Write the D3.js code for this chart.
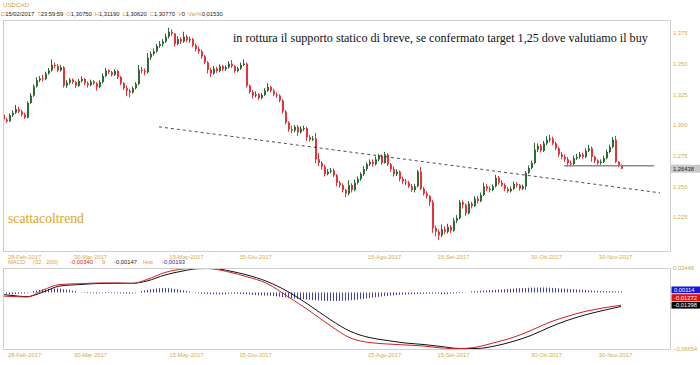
<!DOCTYPE html>
<html><head><meta charset="utf-8">
<script src="https://cdn.jsdelivr.net/npm/d3@7"></script>
<style>body{margin:0;background:#fff}svg{display:block}</style>
</head><body>
<svg id="c" width="700" height="365"></svg>
<script>
// ---------- DATA ----------
const firstOpen = 1.3075;
const closes = [
1.3077,1.3085,1.3045,1.3030,1.3080,1.3100,1.3130,1.3110,1.3085,1.3060,
1.3180,1.3240,1.3315,1.3365,1.3380,1.3375,1.3420,1.3445,1.3490,1.3480,
1.3445,1.3470,1.3320,1.3345,1.3370,1.3350,1.3320,1.3360,1.3375,1.3340,
1.3325,1.3355,1.3340,1.3310,1.3350,1.3400,1.3445,1.3430,1.3410,1.3440,
1.3390,1.3340,1.3300,1.3280,1.3265,1.3300,1.3335,1.3450,1.3440,1.3430,
1.3550,1.3580,1.3600,1.3645,1.3660,1.3680,1.3720,1.3760,1.3745,1.3660,
1.3700,1.3680,1.3720,1.3690,1.3700,1.3650,1.3620,1.3600,1.3560,1.3510,
1.3450,1.3420,1.3460,1.3440,1.3480,1.3455,1.3470,1.3500,1.3480,1.3440,
1.3460,1.3490,1.3500,1.3320,1.3270,1.3240,1.3250,1.3220,1.3245,1.3280,
1.3310,1.3280,1.3250,1.3240,1.3200,1.3110,1.3020,1.2965,1.2955,1.2985,
1.2940,1.2970,1.2975,1.2900,1.2880,1.2890,1.2720,1.2690,1.2660,1.2600,
1.2620,1.2630,1.2590,1.2530,1.2510,1.2470,1.2440,1.2510,1.2470,1.2530,
1.2560,1.2600,1.2640,1.2680,1.2700,1.2680,1.2720,1.2750,1.2690,1.2760,
1.2680,1.2640,1.2600,1.2620,1.2560,1.2540,1.2530,1.2500,1.2470,1.2500,
1.2620,1.2480,1.2440,1.2420,1.2370,1.2160,1.2130,1.2100,1.2150,1.2130,
1.2170,1.2140,1.2220,1.2240,1.2370,1.2350,1.2280,1.2360,1.2340,1.2400,
1.2380,1.2430,1.2500,1.2480,1.2470,1.2500,1.2570,1.2530,1.2510,1.2480,
1.2460,1.2480,1.2520,1.2510,1.2480,1.2500,1.2610,1.2650,1.2690,1.2800,
1.2830,1.2790,1.2850,1.2880,1.2890,1.2850,1.2810,1.2760,1.2740,1.2720,
1.2690,1.2680,1.2730,1.2740,1.2760,1.2740,1.2790,1.2810,1.2740,1.2710,
1.2690,1.2700,1.2730,1.2780,1.2820,1.2880,1.2700,1.2670,1.2644];
const highs = [
1.3119,1.3110,1.3095,1.3060,1.3095,1.3120,1.3164,1.3150,1.3125,1.3100,
1.3195,1.3260,1.3330,1.3390,1.3400,1.3410,1.3435,1.3465,1.3535,1.3510,
1.3495,1.3490,1.3480,1.3365,1.3385,1.3380,1.3360,1.3375,1.3395,1.3385,
1.3355,1.3370,1.3365,1.3350,1.3365,1.3420,1.3465,1.3455,1.3440,1.3455,
1.3450,1.3400,1.3350,1.3320,1.3295,1.3315,1.3350,1.3490,1.3475,1.3460,
1.3587,1.3600,1.3625,1.3660,1.3685,1.3700,1.3745,1.3793,1.3780,1.3750,
1.3725,1.3715,1.3760,1.3735,1.3720,1.3710,1.3665,1.3640,1.3615,1.3570,
1.3520,1.3465,1.3480,1.3475,1.3495,1.3490,1.3485,1.3520,1.3530,1.3490,
1.3475,1.3510,1.3535,1.3510,1.3330,1.3285,1.3275,1.3260,1.3260,1.3300,
1.3340,1.3320,1.3295,1.3265,1.3250,1.3210,1.3120,1.3030,1.2995,1.3000,
1.3000,1.2990,1.2995,1.2985,1.2920,1.2910,1.2935,1.2770,1.2705,1.2675,
1.2640,1.2650,1.2645,1.2600,1.2545,1.2525,1.2480,1.2550,1.2525,1.2555,
1.2580,1.2615,1.2665,1.2695,1.2720,1.2720,1.2745,1.2765,1.2760,1.2781,
1.2770,1.2690,1.2660,1.2640,1.2630,1.2580,1.2560,1.2545,1.2520,1.2520,
1.2634,1.2659,1.2495,1.2460,1.2430,1.2390,1.2180,1.2150,1.2190,1.2175,
1.2195,1.2185,1.2240,1.2265,1.2390,1.2385,1.2360,1.2380,1.2375,1.2420,
1.2420,1.2450,1.2530,1.2520,1.2500,1.2515,1.2594,1.2585,1.2550,1.2525,
1.2495,1.2500,1.2540,1.2535,1.2520,1.2515,1.2625,1.2670,1.2710,1.2854,
1.2850,1.2845,1.2870,1.2910,1.2919,1.2905,1.2865,1.2825,1.2780,1.2760,
1.2740,1.2710,1.2750,1.2765,1.2780,1.2775,1.2810,1.2838,1.2825,1.2750,
1.2720,1.2720,1.2750,1.2800,1.2840,1.2903,1.2910,1.2705,1.2680];
const lows = [
1.3062,1.3060,1.3030,1.3017,1.3025,1.3065,1.3090,1.3095,1.3070,1.3050,
1.3055,1.3170,1.3230,1.3305,1.3350,1.3355,1.3365,1.3410,1.3435,1.3460,
1.3430,1.3435,1.3305,1.3300,1.3330,1.3335,1.3300,1.3310,1.3345,1.3325,
1.3305,1.3315,1.3325,1.3280,1.3300,1.3340,1.3390,1.3415,1.3395,1.3400,
1.3375,1.3325,1.3285,1.3235,1.3225,1.3255,1.3290,1.3325,1.3420,1.3405,
1.3420,1.3530,1.3565,1.3590,1.3630,1.3640,1.3670,1.3705,1.3725,1.3640,
1.3650,1.3660,1.3670,1.3675,1.3670,1.3635,1.3600,1.3580,1.3540,1.3495,
1.3420,1.3390,1.3410,1.3425,1.3430,1.3440,1.3440,1.3460,1.3465,1.3425,
1.3430,1.3450,1.3480,1.3305,1.3255,1.3215,1.3225,1.3205,1.3210,1.3235,
1.3270,1.3265,1.3235,1.3220,1.3185,1.3095,1.3005,1.2945,1.2935,1.2940,
1.2910,1.2930,1.2950,1.2870,1.2865,1.2870,1.2690,1.2665,1.2635,1.2580,
1.2590,1.2605,1.2575,1.2500,1.2490,1.2450,1.2413,1.2425,1.2450,1.2460,
1.2515,1.2545,1.2585,1.2625,1.2665,1.2660,1.2670,1.2705,1.2675,1.2685,
1.2665,1.2620,1.2580,1.2585,1.2540,1.2520,1.2510,1.2485,1.2455,1.2450,
1.2490,1.2470,1.2425,1.2400,1.2340,1.2121,1.2090,1.2061,1.2085,1.2110,
1.2115,1.2120,1.2130,1.2200,1.2230,1.2320,1.2260,1.2270,1.2320,1.2330,
1.2360,1.2370,1.2420,1.2460,1.2450,1.2460,1.2490,1.2515,1.2495,1.2460,
1.2447,1.2450,1.2470,1.2490,1.2465,1.2470,1.2472,1.2600,1.2640,1.2680,
1.2780,1.2775,1.2780,1.2835,1.2860,1.2835,1.2795,1.2740,1.2720,1.2700,
1.2659,1.2662,1.2670,1.2715,1.2725,1.2725,1.2730,1.2780,1.2700,1.2690,
1.2675,1.2675,1.2690,1.2720,1.2770,1.2810,1.2690,1.2655,1.2640];
// FX daily candles open at the previous close
const opens = closes.map((c, i) => i === 0 ? firstOpen : closes[i - 1]);

const dateLabels = ["28-Feb-2017","30-Mar-2017","15-May-2017","15-Giu-2017","15-Ago-2017","15-Set-2017","30-Ott-2017","30-Nov-2017"];
const dateIndex  = [9, 31, 63, 86, 129, 152, 183, 206];
const priceTicks = [1.375, 1.350, 1.325, 1.300, 1.275, 1.250, 1.225];
const lastPrice = 1.26438;

const trendIdx = [54, 221];
const trendVal = [1.2985, 1.2447];
const supportIdx = [189, 219];
const supportVal = 1.2668;

const macdIdx = [0,5,10,15,21,28,34,40,45,50,56,62,67,72,78,83,90,97,104,111,118,124,130,136,142,148,154,160,166,172,178,184,190,196,202,208];
const macdVals = [-0.0034,-0.0040,-0.0045,0.0020,0.0080,0.0088,0.0095,0.0095,0.0090,0.0130,0.0200,0.0235,0.0243,0.0235,0.0200,0.0160,0.0090,-0.0042,-0.0180,-0.0330,-0.0458,-0.0500,-0.0515,-0.0525,-0.0535,-0.0555,-0.0562,-0.0545,-0.0500,-0.0450,-0.0380,-0.0300,-0.0240,-0.0190,-0.0155,-0.0127];
const signalVals = [-0.0015,-0.0030,-0.0042,0.0000,0.0065,0.0080,0.0090,0.0092,0.0092,0.0115,0.0175,0.0215,0.0238,0.0240,0.0212,0.0178,0.0110,0.0008,-0.0125,-0.0270,-0.0392,-0.0450,-0.0480,-0.0505,-0.0520,-0.0540,-0.0560,-0.0560,-0.0535,-0.0490,-0.0430,-0.0350,-0.0280,-0.0225,-0.0180,-0.0140];
// histogram, in thousandths
const histMilli = [
-1.9,-1.7,-1.5,-1.3,-1.0,-0.8,-0.6,-0.4,-0.2,0.0,
0.4,0.9,1.5,2.0,2.5,3.0,3.3,3.6,3.8,4.0,
4.0,3.8,3.3,2.8,2.3,1.8,1.4,1.0,0.7,0.5,
0.3,0.2,0.1,0.0,0.1,0.2,0.3,0.4,0.3,0.2,
0.1,0.0,-0.2,-0.3,-0.3,-0.1,0.3,1.0,1.5,2.0,
2.6,3.2,3.6,4.0,4.3,4.5,4.5,4.3,4.0,3.6,
3.1,2.6,2.1,1.6,1.2,0.8,0.4,0.1,-0.2,-0.4,
-0.6,-0.7,-0.8,-0.8,-0.9,-1.0,-1.0,-1.1,-1.2,-1.3,
-1.4,-1.5,-1.6,-1.8,-2.1,-2.4,-2.6,-2.8,-3.0,-3.1,
-3.2,-3.3,-3.5,-3.8,-4.2,-4.6,-5.0,-5.4,-5.8,-6.1,
-6.4,-6.6,-6.8,-7.0,-7.3,-7.5,-7.8,-8.0,-8.2,-8.3,
-8.4,-8.5,-8.5,-8.5,-8.4,-8.3,-8.2,-8.0,-7.8,-7.5,
-7.2,-6.8,-6.4,-6.0,-5.6,-5.2,-4.8,-4.4,-4.0,-3.7,
-3.4,-3.1,-2.8,-2.6,-2.4,-2.2,-2.0,-1.9,-1.8,-1.7,
-1.6,-1.5,-1.4,-1.3,-1.3,-1.3,-1.2,-1.1,-0.9,-0.7,
-0.5,-0.3,-0.1,0.1,0.3,0.5,0.7,0.9,1.1,1.3,
1.5,1.7,1.9,2.1,2.3,2.5,2.7,2.9,3.1,3.3,
3.5,3.7,3.9,4.1,4.3,4.5,4.6,4.7,4.8,4.9,
5.0,5.0,5.0,4.9,4.8,4.6,4.4,4.2,4.0,3.8,
3.6,3.4,3.2,3.0,2.8,2.6,2.4,2.2,2.0,1.8,
1.6,1.5,1.4,1.3,1.3,1.3,1.2,1.2,1.1];
const macdTicks = [0.02448, -0.05654];
const macdLast = {hist: "0,00114", macd: "-0,01272", signal: "-0,01398"};

const headerItems = [["D","o"],["15/02/2017","k"],["T","o"],["23:59:59","k"],["O","o"],["1,30750","k"],["H","o"],["1,31190","k"],["L","o"],["1,30620","k"],["C","o"],["1,30770","k"],["V","o"],["0","k"],["Var%","o"],["0,01530","k"]];
const macdHeader = [["MACD","o",8],["(32 , 200)","o",33],["-0,00340","r",70],["9","o",102],["-0,00147","k",114],["Hist","o",143],["-0,00193","b",162]];
const annotation = "in rottura il supporto statico di breve, se confermato target 1,25 dove valutiamo il buy";
const brand = "scattacoltrend";

// ---------- DRAW ----------
const svg = d3.select("#c");
const SANS = '"Liberation Sans", Arial, sans-serif';
const SERIF = '"Liberation Serif", "Times New Roman", serif';
const AX = "#d3ac4c", OR = "#e39a3a";
const GREEN = "#2f6b34", RED = "#e8313b";
const colors = {o: OR, k: "#1a1a1a", r: "#e01f1f", b: "#2b2bb0"};

const P = {l: 3, r: 670, t: 20, b: 251};
const M = {t: 268, b: 349};

const x = d3.scaleLinear().domain([0, closes.length - 1]).range([-3, 621]);
const y = d3.scaleLinear().domain([1.225, 1.375]).range([217, 33]);
const ym = d3.scaleLinear().domain([macdTicks[1], macdTicks[0]]).range([M.b, M.t]);

svg.append("rect").attr("width", 700).attr("height", 365).attr("fill", "#fff");

// header
svg.append("text").attr("x", 3).attr("y", 7).attr("font-family", SANS).attr("font-size", 6.2)
  .attr("fill", OR).text("USDCAD");
const hdr = svg.append("text").attr("x", 1).attr("y", 15.5).attr("font-family", SANS).attr("font-size", 5.8);
headerItems.forEach(([t, c], i) => {
  hdr.append("tspan").attr("fill", colors[c]).attr("dx", (i > 0 && c === "o") ? 3 : 0).text(t);
});

// panels
svg.append("rect").attr("x", P.l + 0.5).attr("y", P.t + 0.5).attr("width", P.r - P.l).attr("height", P.b - P.t)
  .attr("fill", "#fff").attr("stroke", "#cfcfcf");
svg.append("rect").attr("x", P.l + 0.5).attr("y", M.t + 0.5).attr("width", P.r - P.l).attr("height", M.b - M.t)
  .attr("fill", "#fff").attr("stroke", "#cfcfcf");

const defs = svg.append("defs");
defs.append("clipPath").attr("id", "cm").append("rect").attr("x", P.l + 1).attr("y", P.t + 1).attr("width", P.r - P.l - 1).attr("height", P.b - P.t - 1);
defs.append("clipPath").attr("id", "cq").append("rect").attr("x", P.l + 1).attr("y", M.t + 1).attr("width", P.r - P.l - 1).attr("height", M.b - M.t - 1);

const main = svg.append("g").attr("clip-path", "url(#cm)");
const candles = closes.map((c, i) => ({i, o: opens[i], h: highs[i], l: lows[i], c}));

const cg = main.append("g").selectAll("g").data(candles).join("g");
cg.append("line")
  .attr("x1", d => Math.round(x(d.i)) + 0.5).attr("x2", d => Math.round(x(d.i)) + 0.5)
  .attr("y1", d => y(d.h)).attr("y2", d => y(d.l))
  .attr("stroke", d => d.c >= d.o ? GREEN : RED).attr("stroke-width", 1);
cg.append("rect")
  .attr("x", d => Math.round(x(d.i)))
  .attr("width", 2)
  .attr("y", d => y(Math.max(d.o, d.c)))
  .attr("height", d => Math.max(1, Math.abs(y(d.o) - y(d.c))))
  .attr("fill", d => d.c >= d.o ? GREEN : RED);

// trend line (dashed)
main.append("line")
  .attr("x1", x(trendIdx[0])).attr("y1", y(trendVal[0]))
  .attr("x2", x(trendIdx[1])).attr("y2", y(trendVal[1]))
  .attr("stroke", "#222").attr("stroke-width", 0.8).attr("stroke-dasharray", "3,3");
// support line
main.append("line")
  .attr("x1", x(supportIdx[0])).attr("x2", x(supportIdx[1]))
  .attr("y1", y(supportVal)).attr("y2", y(supportVal))
  .attr("stroke", "#8c8c8c").attr("stroke-width", 1.4);

// annotation texts
const ann = svg.append("text").attr("x", 233).attr("y", 42).attr("font-family", SERIF)
  .attr("font-size", 12).attr("fill", "#111").text(annotation);
const annLen = ann.node().getComputedTextLength();
ann.attr("font-size", 12 * 415 / annLen);
const br = svg.append("text").attr("x", 8).attr("y", 223).attr("font-family", SERIF)
  .attr("font-size", 15).attr("fill", "#dca41c").text(brand);
const brLen = br.node().getComputedTextLength();
br.attr("font-size", 15 * 76 / brLen);

// price axis
const fmt3 = d => d3.format(".3f")(d).replace(".", ",");
const pAxis = svg.append("g").attr("transform", `translate(${P.r},0)`)
  .call(d3.axisRight(y).tickValues(priceTicks).tickSize(0).tickPadding(3).tickFormat(fmt3));
pAxis.select(".domain").remove();
pAxis.selectAll("text").attr("font-family", SANS).attr("font-size", 5.8).attr("fill", AX);

// last price box
svg.append("rect").attr("x", P.r + 1).attr("y", y(lastPrice) - 4).attr("width", 29).attr("height", 8).attr("fill", "#c9c9c9");
svg.append("text").attr("x", P.r + 3).attr("y", y(lastPrice) + 2.1).attr("font-family", SANS).attr("font-size", 5.8)
  .attr("fill", "#222").text(String(lastPrice).replace(".", ","));

// date axes
function dateAxis(yy) {
  const g = svg.append("g").attr("transform", `translate(0,${yy})`)
    .call(d3.axisBottom(x).tickValues(dateIndex).tickSize(0).tickPadding(2)
      .tickFormat((d, i) => dateLabels[i]));
  g.select(".domain").remove();
  g.selectAll("text").attr("font-family", SANS).attr("font-size", 5.8).attr("fill", AX);
}
dateAxis(P.b + 1.5);
dateAxis(M.b + 1.5);

// MACD header
const mh = svg.append("g");
macdHeader.forEach(([t, c, xx]) => {
  mh.append("text").attr("x", xx).attr("y", 264).attr("font-family", SANS).attr("font-size", 5.8)
    .attr("fill", colors[c]).text(t);
});

// MACD panel
const mg = svg.append("g").attr("clip-path", "url(#cq)");
mg.append("g").selectAll("line").data(histMilli.map((v, i) => ({i, v: v / 1000}))).join("line")
  .attr("x1", d => Math.round(x(d.i)) + 0.5).attr("x2", d => Math.round(x(d.i)) + 0.5)
  .attr("y1", ym(0)).attr("y2", d => ym(d.v) + (Math.abs(ym(d.v) - ym(0)) < 1 ? 1 : 0))
  .attr("stroke", "#3f3fb0").attr("stroke-width", 1);

const line = d3.line().x(d => x(d[0])).y(d => ym(d[1])).curve(d3.curveMonotoneX);
mg.append("path").attr("d", line(macdIdx.map((i, k) => [i, signalVals[k]])))
  .attr("fill", "none").attr("stroke", "#111").attr("stroke-width", 1);
mg.append("path").attr("d", line(macdIdx.map((i, k) => [i, macdVals[k]])))
  .attr("fill", "none").attr("stroke", "#d42020").attr("stroke-width", 1);

const fmt5 = d => d3.format(".5f")(d).replace(".", ",");
const mAxis = svg.append("g").attr("transform", `translate(${P.r},0)`)
  .call(d3.axisRight(ym).tickValues(macdTicks).tickSize(0).tickPadding(3).tickFormat(fmt5));
mAxis.select(".domain").remove();
mAxis.selectAll("text").attr("font-family", SANS).attr("font-size", 5.8).attr("fill", AX);

// MACD value boxes
const boxes = [[macdLast.hist, "#1616e0", 286.5], [macdLast.macd, "#e01010", 294.2], [macdLast.signal, "#050505", 301.8]];
boxes.forEach(([t, c, yy]) => {
  svg.append("rect").attr("x", P.r + 1.5).attr("y", yy).attr("width", 28.5).attr("height", 6.8).attr("fill", c);
  svg.append("text").attr("x", P.r + 4).attr("y", yy + 5.3).attr("font-family", SANS).attr("font-size", 5.8)
    .attr("fill", "#fff").text(t);
});
</script>
</body></html>
